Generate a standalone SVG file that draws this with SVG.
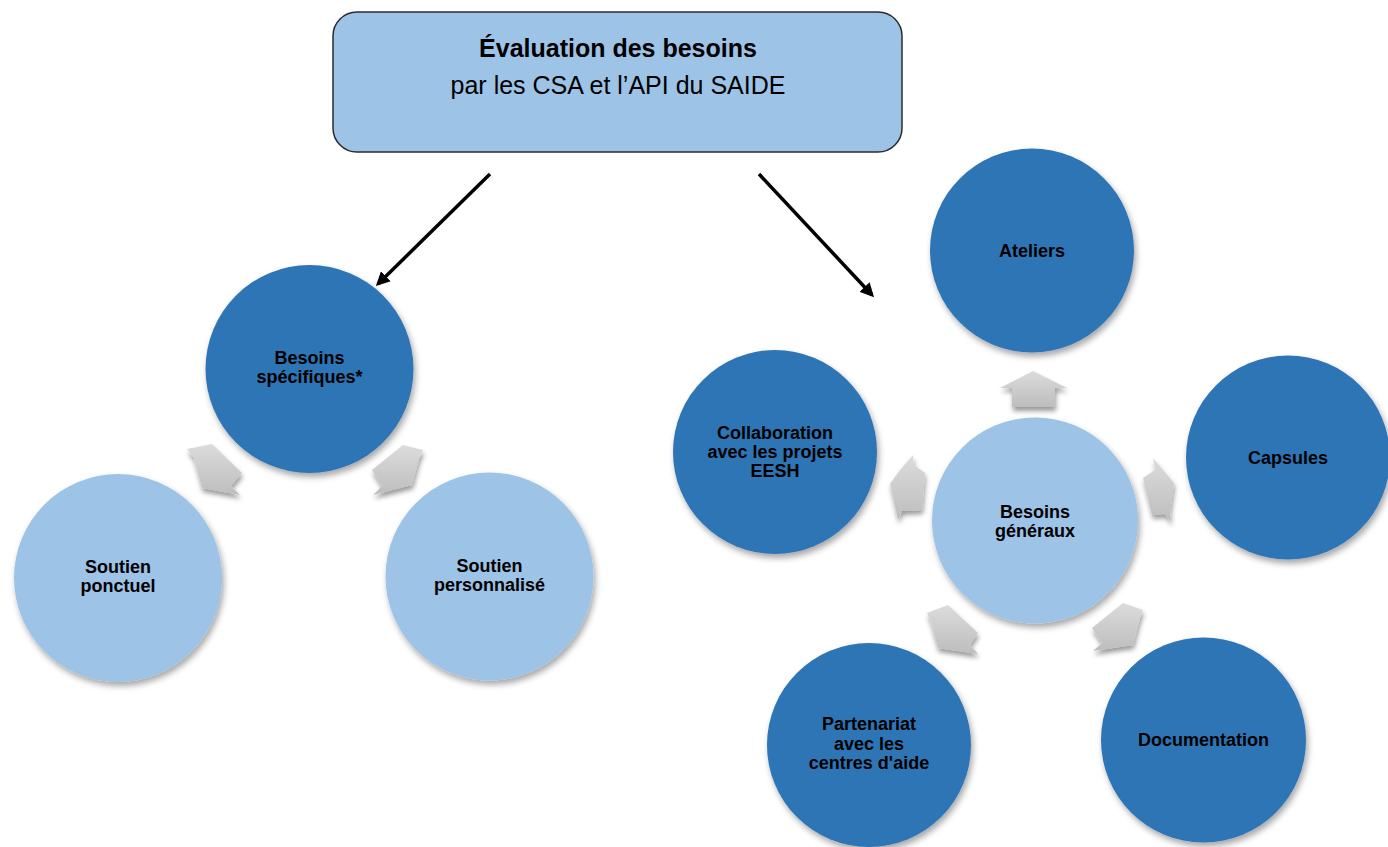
<svg xmlns="http://www.w3.org/2000/svg" width="1388" height="847" viewBox="0 0 1388 847">
<defs>
<filter id="sh" x="-20%" y="-20%" width="140%" height="140%">
<feDropShadow dx="2" dy="4" stdDeviation="3" flood-color="#000" flood-opacity="0.35"/>
</filter>
<filter id="sha" x="-30%" y="-30%" width="160%" height="160%">
<feDropShadow dx="1" dy="4" stdDeviation="2.5" flood-color="#000" flood-opacity="0.4"/>
</filter>
<linearGradient id="g" x1="0" y1="0" x2="0" y2="1">
<stop offset="0" stop-color="#dcdcdc"/>
<stop offset="1" stop-color="#bdbdbd"/>
</linearGradient>
<marker id="ah" markerWidth="14" markerHeight="14" refX="11" refY="7" orient="auto" markerUnits="userSpaceOnUse" viewBox="0 0 14 14">
<path d="M0,0 L14,7 L0,14 Z" fill="#000"/>
</marker>
</defs>
<style>
.dark{fill:#2E75B6;filter:url(#sh)}
.light{fill:#9DC3E6;filter:url(#sh)}
.t{font-family:"Liberation Sans",Arial,sans-serif;font-weight:bold;font-size:18px;fill:#000;text-anchor:middle}
.ar{fill:url(#g);filter:url(#sha)}
.conn{stroke:#000;stroke-width:3.5;fill:none}
</style>
<g id="header">
<rect x="333" y="12" width="569" height="140" rx="24" ry="24" fill="#9DC3E6" stroke="#2b2b2b" stroke-width="1.5"/>
<text x="618" y="57" font-family="'Liberation Sans',Arial,sans-serif" font-weight="bold" font-size="25" text-anchor="middle" fill="#000">Évaluation des besoins</text>
<text x="618" y="94" font-family="'Liberation Sans',Arial,sans-serif" font-size="25" text-anchor="middle" fill="#000">par les CSA et l’API du SAIDE</text>
</g>
<g id="connectors">
<line class="conn" x1="490" y1="174" x2="378" y2="284" marker-end="url(#ah)"/>
<line class="conn" x1="759" y1="174" x2="872" y2="295" marker-end="url(#ah)"/>
</g>
<g id="arrows">
<polygon class="ar" points="187,449 212,444 242,473 231,486 240,495 202,488 194,458"/>
<polygon class="ar" points="403,445 423,450 419,459 412,485 373,495 382,486 372,470"/>
<polygon class="ar" points="1033,371 1067,388 1055,388 1055,407 1012,407 1012,388 1000,388"/>
<polygon class="ar" points="913,455 914,465 925,473 922,510 902,511 898,520 890,484 900,470"/>
<polygon class="ar" points="1153,458 1174,483 1170,512 1171,522 1165,514 1152,515 1143,478 1155,470"/>
<polygon class="ar" points="927,613 948,605 978,633 970,645 978,654 938,648 930,620"/>
<polygon class="ar" points="1123,603 1143,610 1140,618 1133,645 1093,651 1102,643 1092,628"/>
</g>
<g id="besoins-specifiques">
<circle class="dark" cx="309.5" cy="369" r="104"/>
<text class="t" x="309.5" y="364">Besoins</text>
<text class="t" x="309.5" y="383">spécifiques*</text>
</g>
<g id="soutien-ponctuel">
<circle class="light" cx="118" cy="578" r="104"/>
<text class="t" x="118" y="573">Soutien</text>
<text class="t" x="118" y="592">ponctuel</text>
</g>
<g id="soutien-personnalise">
<circle class="light" cx="489.5" cy="576.5" r="104"/>
<text class="t" x="489.5" y="572">Soutien</text>
<text class="t" x="489.5" y="591">personnalisé</text>
</g>
<g id="ateliers">
<circle class="dark" cx="1032" cy="250.5" r="102"/>
<text class="t" x="1032" y="257">Ateliers</text>
</g>
<g id="collaboration">
<circle class="dark" cx="775" cy="452" r="102"/>
<text class="t" x="775" y="439">Collaboration</text>
<text class="t" x="775" y="458">avec les projets</text>
<text class="t" x="775" y="477">EESH</text>
</g>
<g id="besoins-generaux">
<circle class="light" cx="1035" cy="520.5" r="103"/>
<text class="t" x="1035" y="518">Besoins</text>
<text class="t" x="1035" y="537">généraux</text>
</g>
<g id="capsules">
<circle class="dark" cx="1288" cy="457.5" r="102"/>
<text class="t" x="1288" y="464">Capsules</text>
</g>
<g id="partenariat">
<circle class="dark" cx="869" cy="745" r="102"/>
<text class="t" x="869" y="730">Partenariat</text>
<text class="t" x="869" y="750">avec les</text>
<text class="t" x="869" y="769">centres d'aide</text>
</g>
<g id="documentation">
<circle class="dark" cx="1203.5" cy="740" r="102.5"/>
<text class="t" x="1203.5" y="746">Documentation</text>
</g>
</svg>
